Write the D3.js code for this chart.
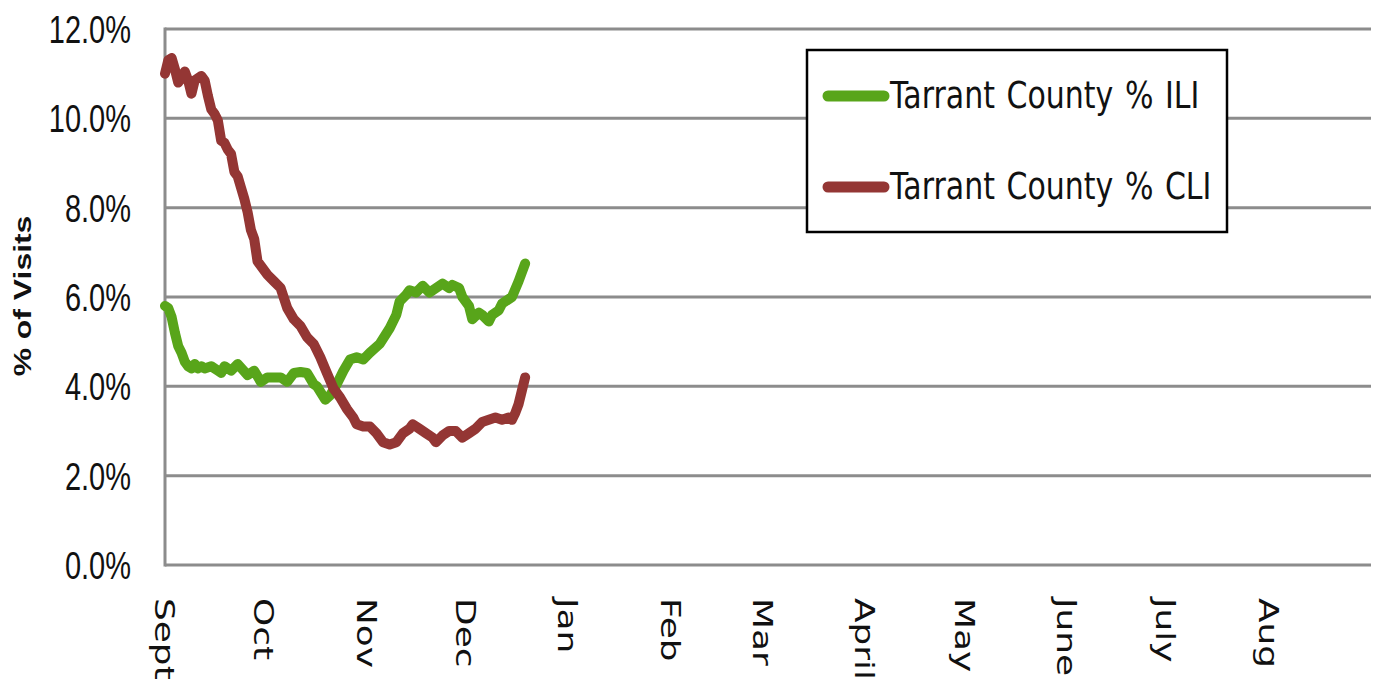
<!DOCTYPE html>
<html>
<head>
<meta charset="utf-8">
<script src="https://cdn.jsdelivr.net/npm/d3@7"></script>
<style>
  html, body { margin: 0; padding: 0; background: #fff; }
  svg { display: block; }
</style>
</head>
<body>
<svg id="chart" width="1379" height="682"></svg>
<script>
// month tick labels, Sept through Aug
const monthLabels = ['Sept', 'Oct', 'Nov', 'Dec', 'Jan', 'Feb', 'Mar', 'April', 'May', 'June', 'July', 'Aug'];
const yTicks = [0, 2, 4, 6, 8, 10, 12];

// Tarrant County % ILI (days since Sept 1)
const iliDays = [0, 1, 2, 3, 4, 5, 6, 7, 8, 9, 10, 11, 12, 14, 16, 17, 18, 20, 22, 25, 27, 29, 31, 33, 35, 37, 39, 41, 43, 45, 46, 48.5, 50, 52, 54, 56, 58, 60, 62, 65, 68, 70, 71, 73, 74, 76, 78, 80, 81, 84, 86, 87, 89, 90, 92, 93, 95, 96, 98, 99, 101, 102, 105, 107, 109];
const iliPct = [5.8, 5.75, 5.55, 5.2, 4.9, 4.75, 4.55, 4.45, 4.4, 4.5, 4.4, 4.45, 4.4, 4.45, 4.35, 4.3, 4.45, 4.35, 4.5, 4.25, 4.35, 4.1, 4.2, 4.2, 4.2, 4.1, 4.3, 4.32, 4.3, 4.05, 4.0, 3.7, 3.8, 4.05, 4.35, 4.6, 4.65, 4.6, 4.75, 4.95, 5.3, 5.6, 5.9, 6.05, 6.15, 6.1, 6.25, 6.1, 6.15, 6.3, 6.2, 6.27, 6.2, 6.0, 5.8, 5.5, 5.65, 5.6, 5.45, 5.6, 5.7, 5.85, 6.0, 6.35, 6.75];

// Tarrant County % CLI (days since Sept 1)
const cliDays = [0, 1, 2, 3, 4, 5, 6, 7, 8, 9, 10, 11, 12, 13, 14, 15, 16, 17, 18, 19, 20, 21, 22, 23, 24, 25, 26, 27, 28, 29, 31, 33, 35, 37, 39, 41, 43, 45, 47, 49, 51, 53, 55, 57, 58, 60, 62, 64, 66, 68, 70, 72, 74, 75, 77, 79, 81, 82, 84, 86, 88, 90, 92, 94, 96, 98, 100, 102, 104, 105, 106, 107, 108, 109];
const cliPct = [11.0, 11.3, 11.35, 11.1, 10.8, 10.9, 11.05, 10.85, 10.55, 10.85, 10.9, 10.95, 10.85, 10.5, 10.2, 10.1, 9.95, 9.5, 9.45, 9.3, 9.2, 8.8, 8.7, 8.45, 8.2, 7.9, 7.5, 7.3, 6.8, 6.7, 6.5, 6.35, 6.2, 5.75, 5.5, 5.35, 5.1, 4.95, 4.65, 4.3, 3.95, 3.75, 3.5, 3.3, 3.15, 3.1, 3.1, 2.95, 2.75, 2.7, 2.75, 2.95, 3.05, 3.15, 3.05, 2.95, 2.85, 2.75, 2.9, 3.0, 3.0, 2.85, 2.95, 3.05, 3.2, 3.25, 3.3, 3.25, 3.3, 3.25, 3.4, 3.6, 3.9, 4.2];

const seriesNames = ['Tarrant County % ILI', 'Tarrant County % CLI'];
const seriesColors = ['#58a51a', '#943634'];

const start = new Date(2020, 8, 1);
const end = new Date(2021, 8, 1);

const svg = d3.select('#chart');

const x = d3.scaleTime()
    .domain([start, end])
    .range([165, 1371]);

const y = d3.scaleLinear()
    .domain([0, 12])
    .range([565, 29]);

const gridColor = '#8c8c8c';

// Gridlines
svg.append('g')
    .selectAll('line')
    .data(yTicks)
    .join('line')
        .attr('x1', x.range()[0])
        .attr('x2', x.range()[1])
        .attr('y1', d => y(d))
        .attr('y2', d => y(d))
        .style('stroke', gridColor)
        .style('stroke-width', 3);

// Y axis line
svg.append('line')
    .attr('x1', x.range()[0])
    .attr('x2', x.range()[0])
    .attr('y1', y(12) - 1.5)
    .attr('y2', y(0) + 1.5)
    .style('stroke', gridColor)
    .style('stroke-width', 3);

// Y tick labels
svg.append('g')
    .selectAll('text')
    .data(yTicks)
    .join('text')
        .attr('transform', d => `translate(131, ${y(d) + 14}) scale(1, 1.33)`)
        .style('text-anchor', 'end')
        .style('font-family', 'Liberation Sans, Arial, sans-serif')
        .style('font-size', '29px')
        .style('fill', '#111')
        .text(d => d.toFixed(1) + '%');

// Y axis title
svg.append('text')
    .attr('transform', `translate(31, 296) rotate(-90) scale(1.33, 1)`)
    .style('text-anchor', 'middle')
    .style('font-family', 'Liberation Sans, Arial, sans-serif')
    .style('font-weight', 'bold')
    .style('font-size', '24px')
    .style('fill', '#111')
    .text('% of Visits');

// Month labels
const months = d3.timeMonth.range(start, end);
svg.append('g')
    .selectAll('text')
    .data(months)
    .join('text')
        .attr('transform', (d, i) => `translate(${x(d) - 10}, 598) rotate(90) scale(1.33, 1)`)
        .style('font-family', 'DejaVu Sans, Verdana, sans-serif')
        .style('font-size', '27px')
        .style('fill', '#111')
        .text((d, i) => monthLabels[i]);

// Lines
const line = d3.line()
    .x(d => x(d.date))
    .y(d => y(d.value));

const series = [
    iliDays.map((d, i) => ({date: d3.timeHour.offset(start, d * 24), value: iliPct[i]})),
    cliDays.map((d, i) => ({date: d3.timeHour.offset(start, d * 24), value: cliPct[i]}))
];

svg.append('g')
    .selectAll('path')
    .data(series)
    .join('path')
        .attr('d', line)
        .style('fill', 'none')
        .style('stroke', (d, i) => seriesColors[i])
        .style('stroke-width', 10)
        .style('stroke-linejoin', 'round')
        .style('stroke-linecap', 'round');

// Legend
const legend = svg.append('g');

legend.append('rect')
    .attr('x', 807)
    .attr('y', 50)
    .attr('width', 420)
    .attr('height', 182)
    .style('fill', '#fff')
    .style('stroke', '#000')
    .style('stroke-width', 2.5);

const legendRowY = [96, 187];

legend.selectAll('.legendLine')
    .data(seriesNames)
    .join('line')
        .classed('legendLine', true)
        .attr('x1', 828)
        .attr('x2', 884)
        .attr('y1', (d, i) => legendRowY[i])
        .attr('y2', (d, i) => legendRowY[i])
        .style('stroke', (d, i) => seriesColors[i])
        .style('stroke-width', 11)
        .style('stroke-linecap', 'round');

legend.selectAll('.legendText')
    .data(seriesNames)
    .join('text')
        .classed('legendText', true)
        .attr('transform', (d, i) => `translate(890, ${legendRowY[i] + 12}) scale(1, 1.22)`)
        .style('font-family', 'DejaVu Sans, Verdana, sans-serif')
        .style('font-size', '30px')
        .style('word-spacing', '2px')
        .style('fill', '#111')
        .text(d => d);
</script>
</body>
</html>
